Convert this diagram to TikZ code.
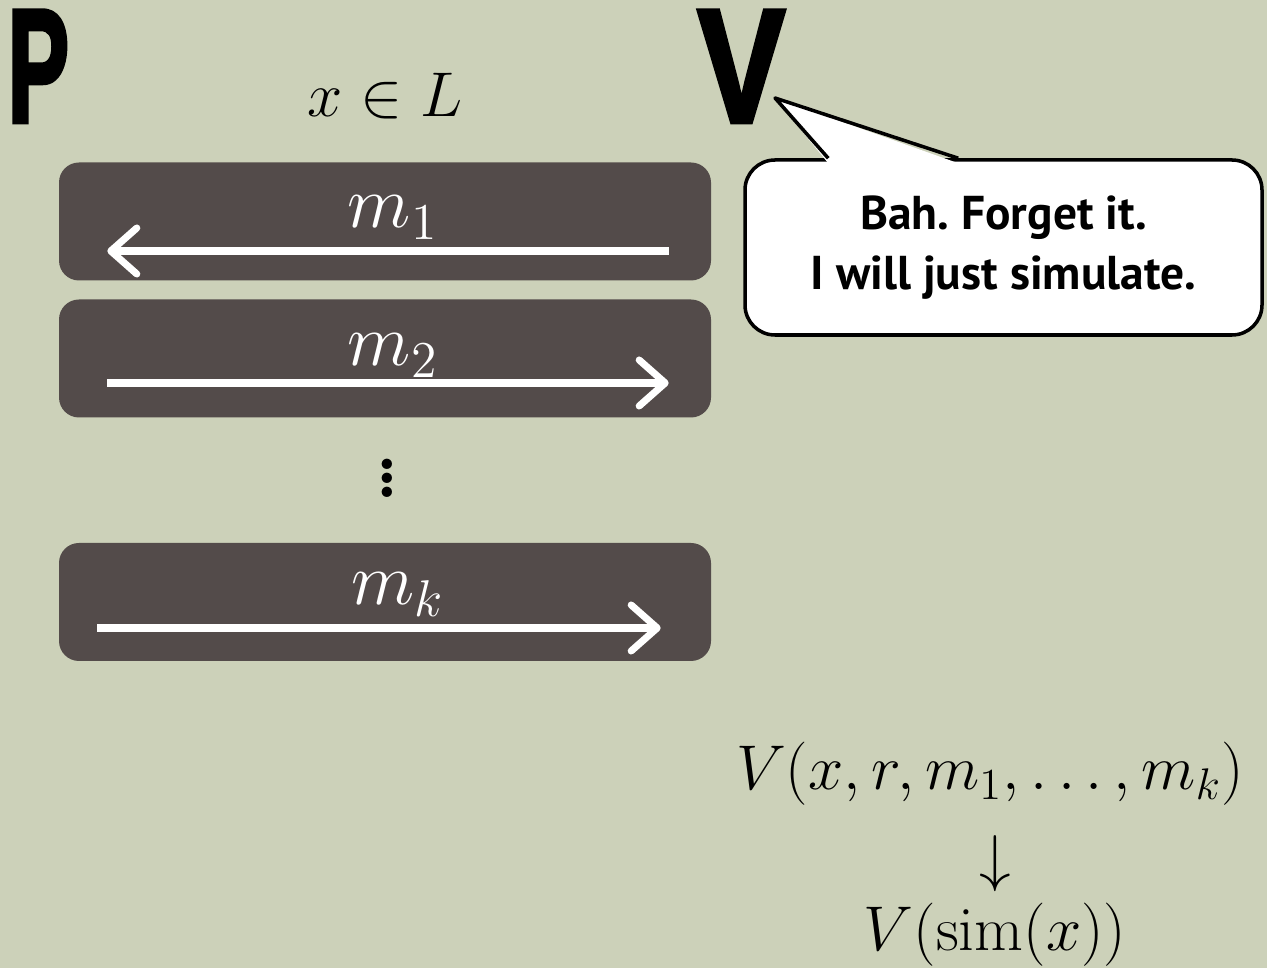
\documentclass[tikz,border=0pt]{standalone}
\usepackage{fix-cm}
\usepackage{graphicx}
\usepackage{fontspec}
\newfontfamily\heavyfont[FakeBold=3]{Liberation Sans}
\newfontfamily\bubblefont{PT Sans}
\usetikzlibrary{arrows.meta,calc}
\definecolor{sage}{HTML}{CCD1B9}
\definecolor{slate}{HTML}{534B4A}
\tikzset{msgbox/.style={fill=slate,rounded corners=.2cm,minimum width=6.52cm,minimum height=1.18cm,inner sep=0},
msgline/.style={white,line width=2pt,-{Straight Barb[length=.26cm,width=.46cm,round]}},
party/.style={font=\heavyfont\bfseries\fontsize{46}{46}\selectfont,inner sep=0,anchor=base west},
mathtxt/.style={font=\fontsize{18}{20}\selectfont,inner sep=0,anchor=base}}
\begin{document}
\frenchspacing
\begin{tikzpicture}
\fill[sage](0,0)rectangle(12.67,-9.68);\useasboundingbox(0,0)rectangle(12.67,-9.68);
\node[party](P)at(.07,-1.22){\scalebox{.57}[1]{P}};\node[party](V)at(6.97,-1.22){\scalebox{.81}[1]{V}};
\node[mathtxt](xL)at(3.85,-1.17){$x\in L$};
% message boxes
\node[msgbox](b1)at(3.85,-2.215){};\node[msgbox](b2)at(3.85,-3.585){};\node[msgbox](b3)at(3.85,-6.02){};
\node[mathtxt,white,font=\fontsize{21}{24}\selectfont](m1)at(3.93,-2.28){$m_1$};
\node[mathtxt,white,font=\fontsize{21}{24}\selectfont](m2)at(3.93,-3.66){$m_2$};
\node[mathtxt,white,font=\fontsize{21}{24}\selectfont](mk)at(3.98,-6.05){$m_k$};
\draw[msgline]($(b1.east)+(-.43,-.295)$)--($(b1.west)+(.49,-.295)$);
\draw[msgline]($(b2.west)+(.49,-.245)$)--($(b2.east)+(-.43,-.245)$);
\draw[msgline]($(b3.west)+(.39,-.26)$)--($(b3.east)+(-.51,-.26)$);
\node[mathtxt,font=\fontsize{36}{40}\selectfont](dots)at(3.87,-4.98){$\vdots$};
% speech bubble
\node[draw,fill=white,line width=1pt,rounded corners=.3cm,minimum width=5.17cm,minimum height=1.75cm,align=center,font=\bubblefont\bfseries\fontsize{13.5}{17}\selectfont](bah)at(10.035,-2.475){Bah. Forget it.\\I will just simulate.};
\coordinate(vtip)at(7.75,-.98);
\fill[white]($(bah.north west)+(.85,-.05)$)--(vtip)--($(bah.north west)+(2.15,-.05)$)--cycle;
\draw[line width=1pt,line join=round]($(bah.north west)+(.85,0)$)--(vtip)--($(bah.north west)+(2.15,0)$);
% simulation
\node[mathtxt](f1)at(9.90,-7.90){$V(x,r,m_1,\ldots,m_k)$};
\node[mathtxt](f2)at(9.95,-8.80){$\downarrow$};
\node[mathtxt](f3)at(9.95,-9.50){$V(\mathrm{sim}(x))$};
\end{tikzpicture}
\end{document}
